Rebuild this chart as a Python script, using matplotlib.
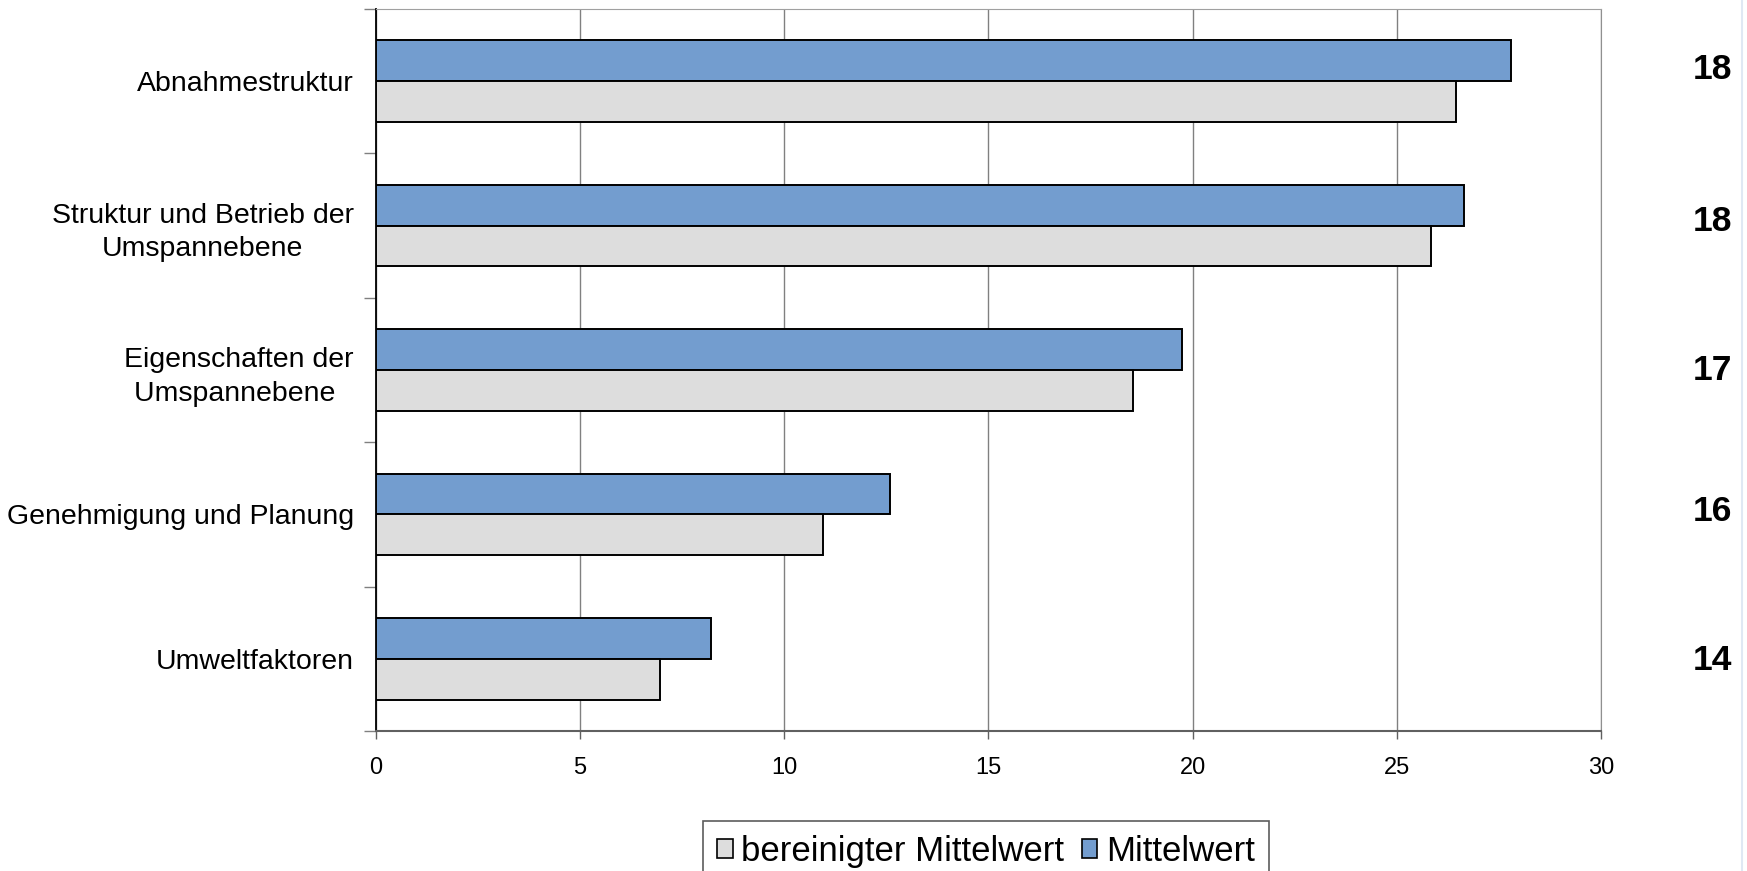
import numpy as np
import matplotlib.pyplot as plt
from matplotlib.patches import Patch
from matplotlib.lines import Line2D
from matplotlib.ticker import FixedLocator

plt.rcParams["font.family"] = ["Liberation Sans", "DejaVu Sans"]

categories = ["Abnahmestruktur",
              "Struktur und Betrieb der\nUmspannebene",
              "Eigenschaften der\nUmspannebene ",
              "Genehmigung und Planung",
              "Umweltfaktoren"]
mittelwert = [27.8, 26.65, 19.75, 12.6, 8.2]
bereinigt = [26.45, 25.85, 18.55, 10.95, 6.95]
counts = ["18", "18", "17", "16", "14"]

# small vertical nudges (pixels) for the count labels on the right
count_nudge = [12, 4, 0, 3, -2]

blue = "#739dcf"
grey = "#dddddd"
bar_h = 0.282

fig = plt.figure(figsize=(17.47, 8.71), dpi=100)
ax = fig.add_axes([0.2152, 0.1607, 0.7012, 0.8290])

y = np.arange(len(categories))
ax.barh(y - bar_h / 2, mittelwert, height=bar_h, color=blue,
        edgecolor="black", linewidth=1.4, zorder=3)
ax.barh(y + bar_h / 2, bereinigt, height=bar_h, color=grey,
        edgecolor="black", linewidth=1.4, zorder=3)

ax.set_xlim(0, 30)
ax.set_ylim(4.5, -0.5)
ax.set_xticks(np.arange(0, 31, 5))
ax.tick_params(axis="x", labelsize=17, length=6, width=1, color="#606060", pad=13)
ax.xaxis.grid(True, color="#808080", linewidth=1, zorder=0)

ax.set_yticks(y)
ax.set_yticklabels(categories, fontsize=20.5)
for lbl in ax.get_yticklabels():
    lbl.set_multialignment("center")
    lbl.set_linespacing(1.38)
ax.tick_params(axis="y", which="major", length=0, pad=16)
ax.yaxis.set_minor_locator(FixedLocator(np.arange(-0.5, 5.0, 1.0)))
ax.tick_params(axis="y", which="minor", length=9, width=1, color="#808080")

ax.spines["left"].set_color("black")
ax.spines["left"].set_linewidth(1.3)
ax.spines["bottom"].set_color("#606060")
ax.spines["bottom"].set_linewidth(1.5)
ax.spines["top"].set_color("#a0a0a0")
ax.spines["right"].set_color("#909090")

for i, txt in enumerate(counts):
    ax.annotate(txt, xy=(1.0914, y[i]), xycoords=("axes fraction", "data"),
                xytext=(0, count_nudge[i]), textcoords="offset pixels",
                ha="center", va="center", fontsize=25.5, fontweight="bold",
                annotation_clip=False)

handles = [Patch(facecolor=grey, edgecolor="black", linewidth=1.2,
                 label="bereinigter Mittelwert"),
           Patch(facecolor=blue, edgecolor="black", linewidth=1.2,
                 label="Mittelwert")]
leg = fig.legend(handles=handles, loc="upper center", bbox_to_anchor=(0.5644, 0.0574),
                 ncol=2, fontsize=25, frameon=True, fancybox=False,
                 handlelength=0.45, handleheight=0.45, handletextpad=0.25,
                 columnspacing=0.5, borderpad=0.4, borderaxespad=0)
leg.get_frame().set_edgecolor("#333333")
leg.get_frame().set_linewidth(1.2)

# thin border line at the right edge of the slide
fig.add_artist(Line2D([0.9971, 0.9971], [0, 1], transform=fig.transFigure,
                      color="#dfe8f3", linewidth=1.5))

fig.savefig("out.png", dpi=100)
